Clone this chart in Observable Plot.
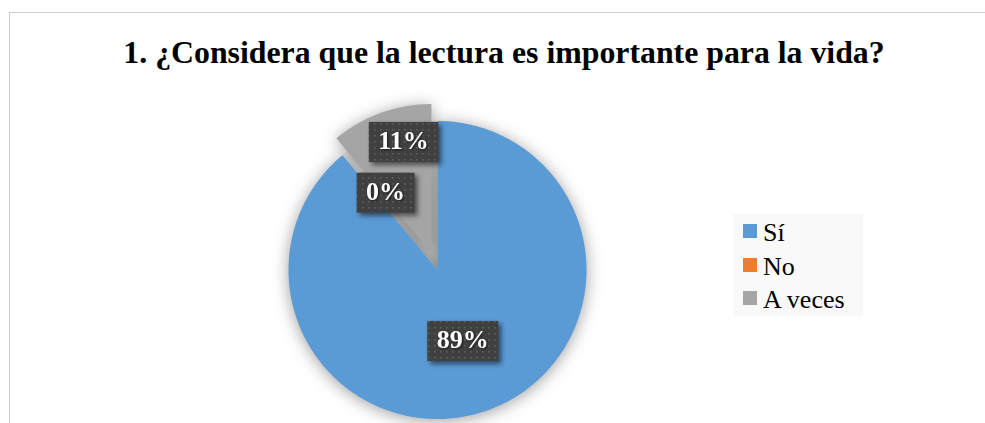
<!DOCTYPE html>
<html>
<head>
<meta charset="utf-8">
<script src="https://cdn.jsdelivr.net/npm/d3@7"></script>
<script src="https://cdn.jsdelivr.net/npm/@observablehq/plot@0.6"></script>
<style>
  html, body { margin: 0; padding: 0; }
  body { width: 985px; height: 423px; overflow: hidden; background: #fff; position: relative;
         font-family: "Liberation Serif", "Times New Roman", serif; color: #000; }
  #cap { position: absolute; left: 124px; top: -24px; font-style: italic; font-size: 22px; line-height: 1; }
  #frame { position: absolute; left: 9px; top: 12px; width: 1010px; height: 440px;
           border-top: 1.5px solid #cccccc; border-left: 1.5px solid #cccccc; box-sizing: border-box; }
  #title { position: absolute; left: 9px; width: 990px; top: 37px; text-align: center;
           font-weight: bold; font-size: 31.8px; line-height: 1; white-space: nowrap; }
  #chart { position: absolute; left: 0; top: 85px; }
  #legend { position: absolute; left: 733px; top: 214px; width: 130px; height: 102px; background: #f9f9f9; }
  .row { position: absolute; left: 0; height: 33.5px; line-height: 33.5px; font-size: 26px; white-space: nowrap; }
  .sw { position: absolute; left: 10px; top: 8px; width: 14px; height: 14px; }
  .lt { position: absolute; left: 30px; top: 0; }
  g[aria-description="pie"] { filter: drop-shadow(0px 2px 8px rgba(0,0,0,0.38)); }
  .lblbox { filter: drop-shadow(3px 3px 2.5px rgba(0,0,0,0.55)); }
  g[aria-description="labels"] text { filter: drop-shadow(1px 1px 1px rgba(0,0,0,0.6)); }
</style>
</head>
<body>
<div id="cap">p</div>
<div id="frame"></div>
<div id="title"></div>
<div id="chart"></div>
<div id="legend"></div>
<svg width="0" height="0" style="position:absolute;left:0;top:0">
  <defs>
    <radialGradient id="ghostGrad" cx="1" cy="1" r="1.05" fx="1" fy="1">
      <stop offset="0" stop-color="#cdcdcd"/>
      <stop offset="0.55" stop-color="#d8d8d8"/>
      <stop offset="1" stop-color="#f4f4f4"/>
    </radialGradient>
    <pattern id="dots" width="6" height="6" patternUnits="userSpaceOnUse">
      <rect width="6" height="6" fill="#404040"/>
      <rect x="2" y="2" width="1.6" height="1.6" fill="#5e5e5e"/>
    </pattern>
  </defs>
</svg>
<script>
// ---- data ----
const titleText = "1. ¿Considera que la lectura es importante para la vida?";
const categories = ["Sí", "No", "A veces"];
const percents = [89, 0, 11];
const colors = ["#5B9BD5", "#ED7D31", "#A5A5A5"];
const labels = ["89%", "0%", "11%"];

// ---- layout ----
const W = 985, H = 338, R = 149, CX = 437, CY = 184.5;
const explodePx = {"A veces": 18};

document.getElementById("title").textContent = titleText;

// legend
const legend = document.getElementById("legend");
categories.forEach((c, i) => {
  const row = document.createElement("div");
  row.className = "row";
  row.style.top = (2 + 33.5 * i) + "px";
  row.innerHTML = `<span class="sw" style="background:${colors[i]}"></span><span class="lt"></span>`;
  row.querySelector(".lt").textContent = c;
  legend.appendChild(row);
});

const arcs = d3.pie().sort(null).value(d => d)(percents);

function wedgePoints(a, cat, ox, oy) {
  const pts = [];
  const n = Math.max(2, Math.ceil((a.endAngle - a.startAngle) / (Math.PI / 180)));
  pts.push({cat, x: ox, y: oy});
  for (let k = 0; k <= n; k++) {
    const t = a.startAngle + (a.endAngle - a.startAngle) * k / n;
    pts.push({cat, x: ox + Math.sin(t), y: oy + Math.cos(t)});
  }
  pts.push({cat, x: ox, y: oy});
  return pts;
}

const slices = [], ghost = [], labelData = [];
const labelRadius = {"Sí": 0.5, "No": 0.62, "A veces": 0.77};
const labelNudge = {"Sí": [0, 0], "No": [7, -7], "A veces": [11, -4]};
arcs.forEach((a, i) => {
  const cat = categories[i];
  const mid = (a.startAngle + a.endAngle) / 2;
  const e = (explodePx[cat] || 0) / R;
  const ox = e * Math.sin(mid), oy = e * Math.cos(mid);
  if (a.endAngle > a.startAngle) slices.push(...wedgePoints(a, cat, ox, oy));
  if (e > 0) ghost.push(...wedgePoints(a, cat, 0, 0));
  const lr = labelRadius[cat];
  labelData.push({cat, text: labels[i], x: ox + lr * Math.sin(mid), y: oy + lr * Math.cos(mid),
                  dx: labelNudge[cat][0], dy: labelNudge[cat][1]});
});

const plot = Plot.plot({
  width: W, height: H, margin: 0,
  x: {domain: [-CX / R, (W - CX) / R], axis: null},
  y: {domain: [-(H - CY) / R, CY / R], axis: null},
  color: {domain: categories, range: colors},
  style: {background: "transparent", overflow: "visible"},
  marks: [
    Plot.line(ghost, {x: "x", y: "y", z: "cat", fill: "url(#ghostGrad)", stroke: "none", ariaDescription: "ghost"}),
    Plot.line(slices, {x: "x", y: "y", z: "cat", fill: "cat", stroke: "none", ariaDescription: "pie"}),
    Plot.text(labelData, {
      x: "x", y: "y", text: "text",
      fill: "white", fontSize: 26, fontWeight: "bold",
      fontFamily: "Liberation Serif, Times New Roman, serif", ariaDescription: "labels"
    })
  ]
});
document.getElementById("chart").appendChild(plot);

// apply per-label nudges and draw boxes behind labels
const svgEl = plot.tagName.toLowerCase() === "svg" ? plot : plot.querySelector("svg");
let labelG = svgEl.querySelector('g[aria-description="labels"]');
if (!labelG) { const gs = svgEl.querySelectorAll("g"); labelG = gs[gs.length - 1]; }
const texts = labelG.querySelectorAll("text");
texts.forEach((t, i) => {
  const d = labelData[i];
  const tr = t.getAttribute("transform") || "";
  t.setAttribute("transform", tr + ` translate(${d.dx},${d.dy})`);
});
const svgRect = svgEl.getBoundingClientRect();
const boxG = document.createElementNS("http://www.w3.org/2000/svg", "g");
labelG.parentNode.insertBefore(boxG, labelG);
texts.forEach((t) => {
  const b = t.getBoundingClientRect();
  const cx = (b.left + b.right) / 2 - svgRect.left;
  const cy = (b.top + b.bottom) / 2 - svgRect.top;
  const w = b.width + 19, h = 40;
  const r = document.createElementNS("http://www.w3.org/2000/svg", "rect");
  r.setAttribute("x", cx - w / 2);
  r.setAttribute("y", cy - h / 2 + 1);
  r.setAttribute("width", w);
  r.setAttribute("height", h);
  r.setAttribute("fill", "url(#dots)");
  r.setAttribute("class", "lblbox");
  boxG.appendChild(r);
});
</script>
</body>
</html>
